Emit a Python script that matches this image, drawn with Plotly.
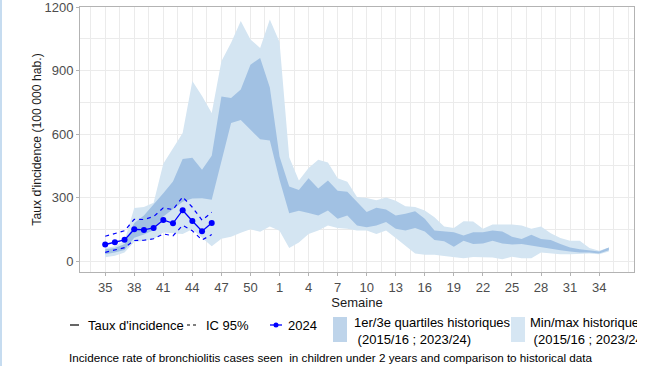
import plotly.graph_objects as go

# ---- data ----
weeks = list(range(35, 53)) + list(range(1, 36))          # 53 weeks, season 35 -> 35
week_labels = [str(w) for w in weeks]

hist_min = [18, 25, 40, 90, 96, 104, 135, 130, 128, 150, 110, 70, 105, 115, 133, 150, 138, 163,
            143, 62, 88, 128, 144, 168, 156, 152, 144, 144, 128, 144, 109, 72, 35, 29, 29, 24,
            19, 13, 19, 19, 16, 8, 20, 13, 13, 40, 35, 32, 32, 35, 35, 32, 45]
hist_q1 = [32, 40, 52, 110, 125, 145, 210, 245, 280, 295, 297, 289, 478, 652, 667, 622, 575, 570,
           384, 226, 237, 227, 215, 239, 200, 215, 168, 160, 168, 184, 152, 144, 156, 140, 99, 93,
           67, 96, 80, 83, 96, 83, 78, 80, 72, 64, 56, 51, 45, 40, 40, 35, 51]
hist_q3 = [55, 62, 80, 180, 215, 265, 320, 376, 482, 488, 431, 497, 778, 770, 810, 928, 960, 820,
           494, 352, 336, 391, 343, 380, 332, 327, 279, 231, 252, 243, 215, 223, 235, 200, 144, 139,
           136, 120, 136, 136, 144, 140, 115, 104, 124, 104, 99, 80, 64, 56, 51, 45, 64]
hist_max = [62, 70, 95, 250, 255, 275, 460, 530, 605, 851, 780, 700, 944, 1031, 1134, 1047, 1007, 1142,
            1035, 490, 380, 439, 479, 466, 391, 375, 303, 298, 287, 300, 285, 259, 255, 239, 207, 163,
            156, 188, 187, 152, 172, 172, 172, 168, 152, 163, 131, 109, 96, 96, 61, 48, 64]

weeks_2024 = [35, 36, 37, 38, 39, 40, 41, 42, 43, 44, 45, 46]
rate_2024 = [78, 89, 100, 150, 147, 156, 194, 178, 240, 189, 141, 180]
ic_upper = [117, 131, 143, 197, 196, 210, 251, 243, 303, 254, 193, 230]
ic_lower = [41, 51, 63, 97, 98, 105, 128, 119, 169, 143, 99, 125]

tick_every = 3

# ---- styling ----
LIGHT = "#d4e5f2"
DARK = "#a1c1e3"
SW_Q = "#bed4ea"
SW_M = "#d6e6f3"
BLUE = "#0000ff"

x_all = list(range(len(weeks)))
x_2024 = [weeks.index(w) for w in weeks_2024]

fig = go.Figure()
fig.add_trace(go.Scatter(x=x_all, y=hist_min, mode="lines", line=dict(width=0), showlegend=False, hoverinfo="skip"))
fig.add_trace(go.Scatter(x=x_all, y=hist_max, mode="lines", line=dict(width=0), fill="tonexty",
                         fillcolor=LIGHT, showlegend=False, hoverinfo="skip"))
fig.add_trace(go.Scatter(x=x_all, y=hist_q1, mode="lines", line=dict(width=0), showlegend=False, hoverinfo="skip"))
fig.add_trace(go.Scatter(x=x_all, y=hist_q3, mode="lines", line=dict(width=0), fill="tonexty",
                         fillcolor=DARK, showlegend=False, hoverinfo="skip"))
fig.add_trace(go.Scatter(x=x_2024, y=ic_upper, mode="lines", line=dict(color=BLUE, width=1.2, dash="4px,4px"),
                         showlegend=False))
fig.add_trace(go.Scatter(x=x_2024, y=ic_lower, mode="lines", line=dict(color=BLUE, width=1.2, dash="4px,4px"),
                         showlegend=False))
fig.add_trace(go.Scatter(x=x_2024, y=rate_2024, mode="lines+markers", line=dict(color=BLUE, width=1.3),
                         marker=dict(color=BLUE, size=6), showlegend=False))

tickvals = x_all[::tick_every]
ticktext = week_labels[::tick_every]

ML, MR, MT, MB = 80, 20, 7, 94
W, H = 654, 366
PW, PH = W - ML - MR, H - MT - MB


def px(x):
    return (x - ML) / PW


def py(y):
    return (H - MB - y) / PH


GRID = "#ebebeb"
AX = "#b3b3b3"
FONT = "Liberation Sans, Arial, sans-serif"
fig.update_xaxes(range=[-2.6, 54.6], tickmode="array", tickvals=tickvals, ticktext=ticktext,
                 automargin=False,
                 showgrid=True, gridcolor=GRID, gridwidth=1,
                 minor=dict(tickmode="linear", tick0=0, dtick=1.5, showgrid=True, gridcolor=GRID, gridwidth=1),
                 showline=True, mirror=True, linecolor=AX, linewidth=1,
                 ticks="outside", ticklen=3, tickcolor=AX, zeroline=False,
                 tickfont=dict(size=13, color="#4d4d4d"),
                 title=dict(text="Semaine", font=dict(size=13, color="#1a1a1a"), standoff=1))
fig.update_yaxes(range=[-52, 1200.5], tickmode="linear", tick0=0, dtick=300,
                 ticklabeloverflow="allow", automargin=False,
                 showgrid=True, gridcolor=GRID, gridwidth=1,
                 minor=dict(tickmode="linear", tick0=0, dtick=150, showgrid=True, gridcolor=GRID, gridwidth=1),
                 showline=True, mirror=True, linecolor=AX, linewidth=1,
                 ticks="outside", ticklen=3, tickcolor=AX, zeroline=False,
                 tickfont=dict(size=13, color="#4d4d4d"),
                 title=dict(text="Taux d'incidence (100 000 hab.)", font=dict(size=12.2, color="#1a1a1a"), standoff=0))

shapes = []
# page left accent line
shapes.append(dict(type="rect", xref="paper", yref="paper", x0=px(0), x1=px(2), y0=py(H), y1=py(0),
                   line=dict(width=0), fillcolor="#c6dcf0", layer="above"))
# legend keys
shapes.append(dict(type="line", xref="paper", yref="paper", x0=px(70), x1=px(79), y0=py(325), y1=py(325),
                   line=dict(color="black", width=1.2)))
shapes.append(dict(type="line", xref="paper", yref="paper", x0=px(187), x1=px(198), y0=py(325), y1=py(325),
                   line=dict(color="black", width=1.2, dash="3px,3px")))
shapes.append(dict(type="line", xref="paper", yref="paper", x0=px(270), x1=px(282), y0=py(325), y1=py(325),
                   line=dict(color=BLUE, width=1.3)))
shapes.append(dict(type="circle", xref="paper", yref="paper", x0=px(273.5), x1=px(278.5), y0=py(327.5), y1=py(322.5),
                   line=dict(width=0), fillcolor=BLUE))
shapes.append(dict(type="rect", xref="paper", yref="paper", x0=px(333), x1=px(347), y0=py(342), y1=py(317),
                   line=dict(width=0), fillcolor=SW_Q))
shapes.append(dict(type="rect", xref="paper", yref="paper", x0=px(511), x1=px(525), y0=py(342), y1=py(317),
                   line=dict(width=0), fillcolor=SW_M))

LF = dict(family=FONT, size=13, color="black")
ann = []


def label(text, x, y, width=None):
    d = dict(text=text, xref="paper", yref="paper", x=px(x), y=py(y), xanchor="left", yanchor="middle",
             showarrow=False, font=LF, borderpad=0, align="left")
    if width is not None:
        d["width"] = width
    ann.append(d)


label("Taux d'incidence", 87, 325)
label("IC 95%", 205, 325)
label("2024", 287, 325)
label("1er/3e quartiles historiques<br>\u00a0(2015/16 ; 2023/24)", 353, 330.5)
label("Min/max historique<br>\u00a0(2015/16 ; 2023/24)", 529, 330.5, width=636 - 529)
ann.append(dict(text="Incidence rate of bronchiolitis cases seen  in children under 2 years and comparison to historical data",
                xref="paper", yref="paper", x=px(330), y=py(357), xanchor="center", yanchor="middle",
                showarrow=False, font=dict(family=FONT, size=11.7, color="black")))

fig.update_layout(width=W, height=H, margin=dict(l=ML, r=MR, t=MT, b=MB, pad=0, autoexpand=False),
                  paper_bgcolor="white", plot_bgcolor="white",
                  font=dict(family=FONT),
                  showlegend=False, shapes=shapes, annotations=ann)

fig.write_html("out.html")
